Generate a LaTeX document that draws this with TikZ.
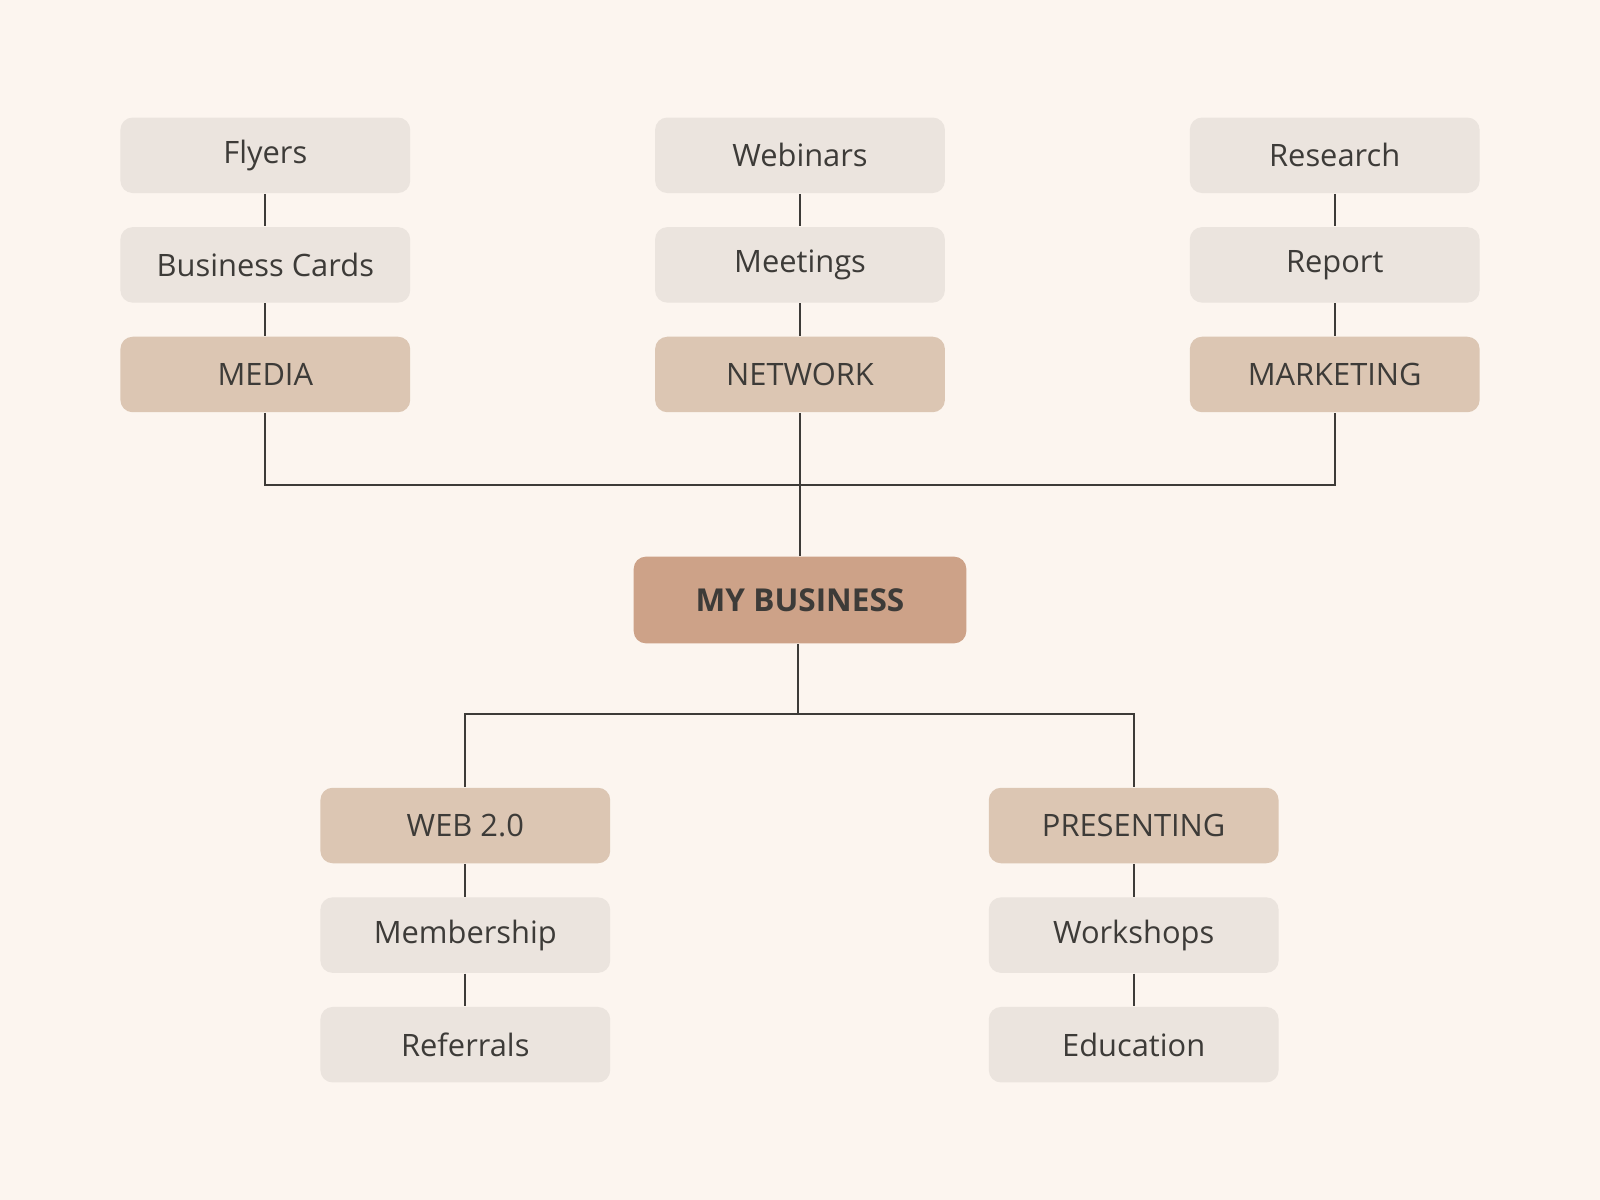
\documentclass[tikz,border=0pt]{standalone}
\usepackage{fontspec}
\setmainfont{Open Sans}
\usetikzlibrary{positioning, calc}
\definecolor{bgcol}{HTML}{FCF5EF}
\definecolor{leafcol}{HTML}{EBE4DE}
\definecolor{branchcol}{HTML}{DCC6B3}
\definecolor{rootcol}{HTML}{CDA288}
\definecolor{inkcol}{HTML}{3D3B38}

\begin{document}
\begin{tikzpicture}[
        box/.style={rectangle, rounded corners=0.12cm, minimum width=2.84cm, minimum height=0.74cm,
            text=inkcol, font=\fontsize{8.6}{10}\selectfont, inner sep=0pt},
        leaf/.style={box, fill=leafcol},
        branch/.style={box, fill=branchcol},
        root/.style={box, fill=rootcol, minimum width=3.26cm, minimum height=0.85cm,
            font=\fontsize{8.8}{10}\selectfont\bfseries},
        link/.style={draw=inkcol, line width=0.5pt}
    ]
        \fill[bgcol] (0,0) rectangle (15.68,-11.76);
        \useasboundingbox (0,0) rectangle (15.68,-11.76);

        \node[root] (biz) at (7.84,-5.88) {MY BUSINESS};

        \node[branch] (media) at (2.60,-3.67) {MEDIA};
        \node[leaf, above=0.32cm of media] (cards) {Business Cards};
        \node[leaf, above=0.32cm of cards] (flyers) {Flyers};

        \node[branch] (network) at (7.84,-3.67) {NETWORK};
        \node[leaf, above=0.32cm of network] (meetings) {Meetings};
        \node[leaf, above=0.32cm of meetings] (webinars) {Webinars};

        \node[branch] (marketing) at (13.08,-3.67) {MARKETING};
        \node[leaf, above=0.32cm of marketing] (report) {Report};
        \node[leaf, above=0.32cm of report] (research) {Research};

        \node[branch] (web) at (4.56,-8.09) {WEB 2.0};
        \node[leaf, below=0.32cm of web] (member) {Membership};
        \node[leaf, below=0.32cm of member] (referrals) {Referrals};

        \node[branch] (present) at (11.11,-8.09) {PRESENTING};
        \node[leaf, below=0.32cm of present] (workshops) {Workshops};
        \node[leaf, below=0.32cm of workshops] (education) {Education};

        \coordinate (topbar) at (7.84,-4.75);
        \coordinate (lowbar) at (7.82,-7.00);

        % columns
        \draw[link] (flyers) -- (cards) -- (media);
        \draw[link] (webinars) -- (meetings) -- (network);
        \draw[link] (research) -- (report) -- (marketing);
        \draw[link] (web) -- (member) -- (referrals);
        \draw[link] (present) -- (workshops) -- (education);

        % trunk
        \draw[link] (media.south) |- (topbar) -| (marketing.south);
        \draw[link] (network.south) -- (biz.north);
        \draw[link] (biz.south -| lowbar) -- (lowbar);
        \draw[link] (web.north) |- (lowbar) -| (present.north);
\end{tikzpicture}
\end{document}
